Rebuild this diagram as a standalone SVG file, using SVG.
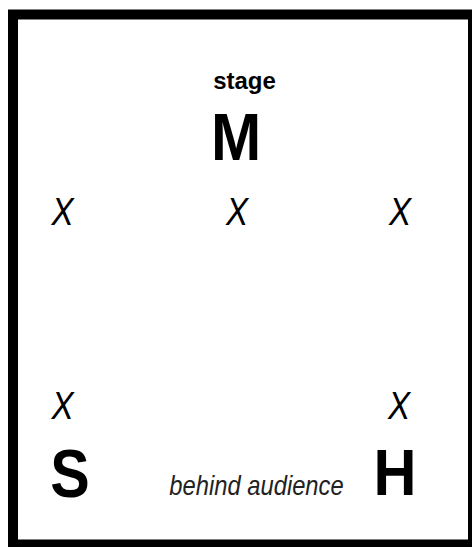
<svg xmlns="http://www.w3.org/2000/svg" width="472" height="547" viewBox="0 0 472 547">
<style>
.b{font-family:"Liberation Sans",Arial,sans-serif;font-weight:bold;fill:#000;text-anchor:middle}
.x{font-family:"Liberation Sans",Arial,sans-serif;font-style:italic;font-size:39px;fill:#000;text-anchor:middle}
.l{font-family:"Liberation Sans",Arial,sans-serif;font-style:italic;font-size:27px;fill:#222;text-anchor:middle}
</style>
<rect x="0" y="0" width="472" height="547" fill="#fff"/>
<rect x="13" y="14.5" width="460" height="530" fill="none" stroke="#000" stroke-width="10"/>
<g id="stage"><text class="b" x="244.5" y="89" font-size="24">stage</text></g>
<g id="M" transform="translate(236,0) scale(0.9,1)"><text class="b" x="0" y="160" font-size="67">M</text></g>
<g id="x1" transform="translate(62.5,0) scale(0.85,1)"><text class="x" x="0" y="225">X</text></g>
<g id="x2" transform="translate(237,0) scale(0.85,1)"><text class="x" x="0" y="225">X</text></g>
<g id="x3" transform="translate(400,0) scale(0.85,1)"><text class="x" x="0" y="225">X</text></g>
<g id="x4" transform="translate(62.5,0) scale(0.85,1)"><text class="x" x="0" y="419">X</text></g>
<g id="x5" transform="translate(399,0) scale(0.85,1)"><text class="x" x="0" y="419">X</text></g>
<g id="S" transform="translate(70,0) scale(0.87,1)"><text class="b" x="0" y="497" font-size="68">S</text></g>
<g id="H" transform="translate(395,0) scale(0.93,1)"><text class="b" x="0" y="495" font-size="64">H</text></g>
<g id="behind" transform="translate(256.5,0) scale(0.88,1)"><text class="l" x="0" y="495">behind audience</text></g>
<g id="connectors"/>
</svg>
